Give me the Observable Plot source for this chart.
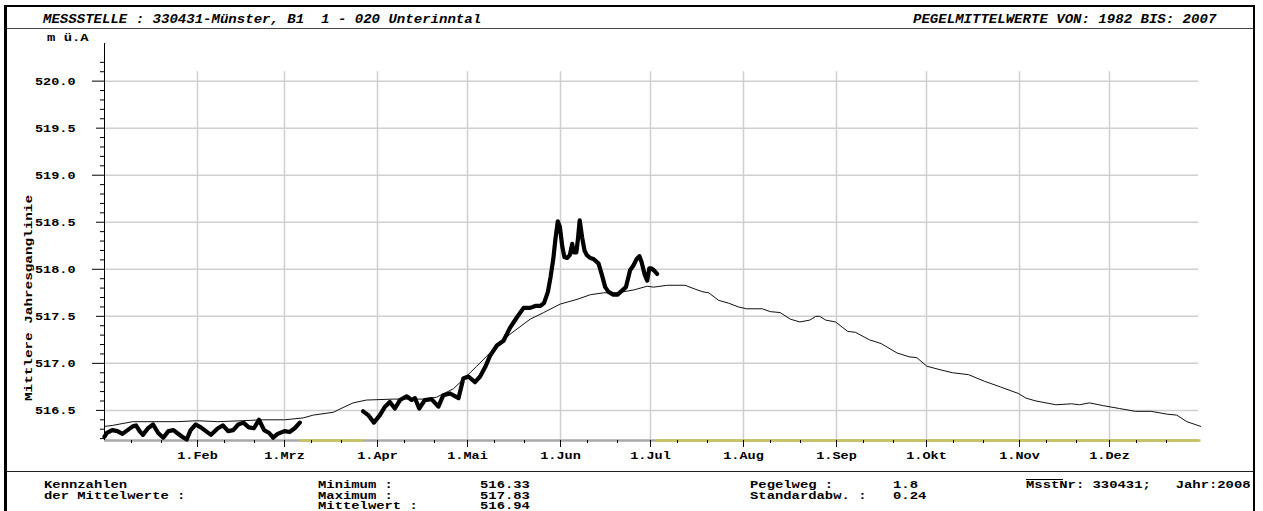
<!DOCTYPE html>
<html>
<head>
<meta charset="utf-8">
<script src="https://cdn.jsdelivr.net/npm/d3@7"></script>
<script src="https://cdn.jsdelivr.net/npm/@observablehq/plot@0.6"></script>
<style>
  html, body { margin: 0; padding: 0; background: #fff; }
  #wrap { position: relative; width: 1263px; height: 511px; overflow: hidden; background: #fff; }
  #wrap svg { position: absolute; left: 0; top: 0; }
  .t { position: absolute; white-space: pre; font-family: "Liberation Mono", "DejaVu Sans Mono", monospace; font-weight: bold; color: #000; transform-origin: 0 50%; }
  .hdr { font-size: 12px; line-height: 14px; font-style: italic; transform: scaleX(1.17); }
  .ftr { font-size: 11px; line-height: 10px; transform: scaleX(1.26); }
  .ln { position: absolute; background: #000; }
</style>
</head>
<body>
<div id="wrap"></div>
<script>
// ---- data (day-of-year, 0 = 1 Jan 2008) ----
const meanDay = [0, 2.6, 9.4, 16.2, 24.2, 31, 37.8, 45.8, 52.6, 60, 66.2, 69.6, 76.3, 79.5, 82.9, 87.3, 96.2, 106.8, 110.7, 116.3, 119.6, 124.1, 129.7, 135.2, 141.9, 146.4, 151.9, 157.5, 162, 166.4, 170.9, 176.4, 180.9, 183, 187.6, 193.5, 196.8, 199.5, 201.4, 204.7, 208, 211.3, 214, 219.3, 221.9, 225.2, 228.6, 231.8, 235.1, 237.1, 238.4, 240.4, 243.7, 247.7, 250.3, 255, 258.9, 264.2, 268.2, 270.8, 274.1, 278.8, 282.7, 288, 293.3, 298.6, 304.6, 307.2, 310.5, 317.1, 322.4, 325, 328.3, 333, 338.3, 343.6, 348.9, 354.2, 357.4, 360.8, 365.4];
const meanLevel = [516.33, 516.34, 516.38, 516.38, 516.38, 516.39, 516.38, 516.39, 516.40, 516.40, 516.42, 516.45, 516.48, 516.53, 516.58, 516.61, 516.62, 516.62, 516.64, 516.73, 516.83, 516.97, 517.15, 517.31, 517.47, 517.54, 517.63, 517.68, 517.73, 517.75, 517.75, 517.78, 517.82, 517.81, 517.83, 517.83, 517.79, 517.76, 517.75, 517.67, 517.64, 517.60, 517.58, 517.58, 517.55, 517.54, 517.47, 517.44, 517.46, 517.50, 517.50, 517.46, 517.44, 517.34, 517.33, 517.25, 517.21, 517.11, 517.07, 517.06, 516.97, 516.93, 516.90, 516.88, 516.81, 516.75, 516.68, 516.63, 516.60, 516.56, 516.57, 516.56, 516.58, 516.55, 516.52, 516.49, 516.49, 516.46, 516.45, 516.38, 516.33];

const obsDay1 = [0, 0.8, 2.6, 4.3, 6, 7.7, 9.4, 10.5, 11.7, 12.8, 14.5, 16.2, 17.9, 19.6, 21.3, 23, 24.2, 25.9, 27.4, 28.7, 30.4, 32.1, 33.8, 35.5, 37.8, 39.5, 41.2, 42.9, 44.6, 46.3, 48.1, 49.8, 51.5, 53.2, 54.9, 56.2, 57.7, 60, 61.7, 63.4, 65.1];
const obsLevel1 = [516.22, 516.26, 516.29, 516.28, 516.25, 516.29, 516.33, 516.34, 516.28, 516.24, 516.31, 516.35, 516.26, 516.21, 516.28, 516.29, 516.26, 516.22, 516.19, 516.29, 516.35, 516.32, 516.28, 516.24, 516.31, 516.34, 516.28, 516.29, 516.35, 516.37, 516.32, 516.31, 516.40, 516.29, 516.26, 516.21, 516.25, 516.28, 516.27, 516.31, 516.37];

const obsDay2 = [86.2, 87.9, 89.8, 91.8, 93.5, 95.1, 96.8, 98.5, 100.7, 102.4, 103.5, 104.9, 106.8, 109, 111.3, 112.9, 115.2, 118, 119.6, 121.3, 123.5, 125.2, 126.9, 128.5, 130.8, 133, 135.2, 137.5, 139.7, 141.9, 143.6, 145.3, 146.5, 147.8, 148.7, 149.6, 150.3, 151.1, 151.8, 152.6, 153.3, 154.2, 155.1, 155.9, 156.4, 157.3, 157.8, 158.4, 159.2, 160, 160.8, 161.9, 163, 164.7, 165.8, 166.9, 168, 169.6, 171, 172.4, 173.8, 175.2, 176.3, 177.4, 178.3, 179, 180.1, 180.9, 181.6, 182.3, 183.1, 184.2];
const obsLevel2 = [516.49, 516.45, 516.37, 516.45, 516.54, 516.59, 516.52, 516.61, 516.65, 516.61, 516.63, 516.52, 516.61, 516.62, 516.54, 516.66, 516.68, 516.63, 516.84, 516.86, 516.80, 516.86, 516.96, 517.08, 517.19, 517.24, 517.38, 517.49, 517.59, 517.59, 517.61, 517.61, 517.64, 517.76, 517.92, 518.11, 518.32, 518.51, 518.45, 518.24, 518.13, 518.12, 518.15, 518.27, 518.18, 518.18, 518.32, 518.52, 518.34, 518.20, 518.15, 518.12, 518.11, 518.06, 517.94, 517.81, 517.76, 517.73, 517.73, 517.77, 517.81, 517.99, 518.04, 518.11, 518.14, 518.08, 517.94, 517.88, 518.01, 518.01, 517.99, 517.95];

// days without measurement (marked on the x axis)
const missingFrom = [65, 184];
const missingTo = [86.5, 365.5];

const monthLabels = ["1.Feb", "1.Mrz", "1.Apr", "1.Mai", "1.Jun", "1.Jul", "1.Aug", "1.Sep", "1.Okt", "1.Nov", "1.Dez"];
const yLabelTicks = [516.5, 517.0, 517.5, 518.0, 518.5, 519.0, 519.5, 520.0];

const headerLeft = "MESSSTELLE : 330431-Münster, B1  1 - 020 Unterinntal";
const headerRight = "PEGELMITTELWERTE VON: 1982 BIS: 2007";
const yTitle = "Mittlere Jahresganglinie";
const unitLabel = "m ü.A";
const statNames1 = ["Minimum :", "Maximum :", "Mittelwert :"];
const statValues1 = ["516.33", "517.83", "516.94"];
const statNames2 = ["Pegelweg :", "Standardabw. :"];
const statValues2 = ["1.8", "0.24"];

// ---- build ----
const t0 = Date.UTC(2008, 0, 1);
const toDate = d => new Date(t0 + d * 864e5);
const mean = meanDay.map((d, i) => ({date: toDate(d), v: meanLevel[i]}));
const obs = [
  ...obsDay1.map((d, i) => ({date: toDate(d), v: obsLevel1[i], seg: 1})),
  ...obsDay2.map((d, i) => ({date: toDate(d), v: obsLevel2[i], seg: 2}))
];
const missing = missingFrom.map((d, i) => ({x1: toDate(d), x2: toDate(missingTo[i])}));

const monthTicks = monthLabels.map((_, i) => new Date(Date.UTC(2008, i + 1, 1)));
const minorXTicks = [];
for (let m = 0; m < 12; m++) { minorXTicks.push(new Date(Date.UTC(2008, m, 10)), new Date(Date.UTC(2008, m, 20))); }

const yMin = 516.18, yMax = 520.4;
const allY = d3.range(2, 43).map(k => +(516 + k * 0.1).toFixed(1));
const intY = allY.filter(v => Math.abs(v - Math.round(v)) < 1e-6);
const halfY = allY.filter(v => Math.abs(v * 2 - Math.round(v * 2)) < 1e-6 && !intY.includes(v));
const tenthY = allY.filter(v => !intY.includes(v) && !halfY.includes(v));

const x0 = new Date(t0), x1 = new Date(Date.UTC(2009, 0, 1));
const gridEnd = toDate(364.7);

const chart = Plot.plot({
  width: 1263, height: 511,
  marginLeft: 104, marginRight: 61, marginTop: 43, marginBottom: 71,
  x: {type: "utc", domain: [x0, x1]},
  y: {domain: [yMin, yMax]},
  style: {background: "transparent", fontFamily: "Liberation Mono, monospace", fontWeight: "bold", fontSize: "10px", color: "#000"},
  marks: [
    Plot.ruleY(yLabelTicks, {x1: x0, x2: gridEnd, stroke: "#cfcfcf", strokeWidth: 1.5}),
    Plot.ruleX(monthTicks, {y1: yMin, y2: 520.1, stroke: "#cfcfcf", strokeWidth: 1.5}),
    Plot.ruleY([yMin], {x1: x0, x2: gridEnd, stroke: "#a8a8a8", strokeWidth: 2.5}),
    Plot.ruleY(missing, {y: yMin, x1: "x1", x2: "x2", stroke: "#c8c35a", strokeWidth: 2.5}),
    Plot.ruleX([x0], {y1: yMin, y2: yMax, stroke: "#000", strokeWidth: 1}),
    Plot.axisY(tenthY, {tickSize: 4, tickFormat: () => "", label: null, stroke: "#000"}),
    Plot.axisY(halfY, {tickSize: 8, tickFormat: () => "", label: null, stroke: "#000"}),
    Plot.axisY(intY, {tickSize: 12, tickFormat: () => "", label: null, stroke: "#000"}),
    Plot.axisY(yLabelTicks, {tickSize: 0, tickPadding: 29, tickFormat: d => d.toFixed(1), label: null, fontSize: 11}),
    Plot.axisX(minorXTicks, {tickSize: 3, tickFormat: () => "", label: null, stroke: "#000"}),
    Plot.axisX(monthTicks, {tickSize: 7, tickPadding: 4, tickFormat: d => monthLabels[d.getUTCMonth() - 1], label: null, fontSize: 11, stroke: "#000"}),
    Plot.line(mean, {x: "date", y: "v", stroke: "#111", strokeWidth: 1, curve: "linear"}),
    Plot.line(obs, {x: "date", y: "v", z: "seg", stroke: "#000", strokeWidth: 4.2, strokeLinejoin: "round", strokeLinecap: "round"})
  ]
});

const wrap = document.getElementById("wrap");
wrap.appendChild(chart);

// widen the bold mono tick labels like the original print
chart.querySelectorAll('g[aria-label$="tick label"] text').forEach(t => {
  const s = t.textContent;
  if (s && s.length) {
    t.setAttribute("textLength", s.length * 8.1);
    t.setAttribute("lengthAdjust", "spacingAndGlyphs");
  }
});

function line(l, t, w, h, c) {
  const d = document.createElement("div");
  d.className = "ln";
  Object.assign(d.style, {left: l + "px", top: t + "px", width: w + "px", height: h + "px", background: c || "#000"});
  wrap.appendChild(d);
}
function text(s, cls, l, cy, lh) {
  const d = document.createElement("div");
  d.className = "t " + cls;
  d.textContent = s;
  d.style.left = l + "px";
  d.style.top = (cy - lh / 2) + "px";
  wrap.appendChild(d);
  return d;
}

// frame
line(4, 5, 1251, 2);
line(4, 5, 3, 506);
line(1253, 5, 2, 506);
line(7, 28, 1246, 1, "#444");
line(7, 471, 1246, 1, "#222");
line(1026, 479, 37, 1, "#000");

// header
text(headerLeft, "hdr", 43, 20, 14);
text(headerRight, "hdr", 913, 20, 14);

// unit & y title
text(unitLabel, "ftr", 47, 38, 10);
const yt = document.createElement("div");
yt.className = "t";
yt.textContent = yTitle;
Object.assign(yt.style, {fontSize: "11px", lineHeight: "12px", left: "29px", top: "298px", transformOrigin: "50% 50%", transform: "translate(-50%,-50%) rotate(-90deg) scaleX(1.3)"});
wrap.appendChild(yt);

// footer
const rows = [485, 495.5, 505.5];
text("Kennzahlen", "ftr", 44, rows[0], 10);
text("der Mittelwerte :", "ftr", 44, rows[1], 10);
statNames1.forEach((s, i) => { text(s, "ftr", 318, rows[i], 10); text(statValues1[i], "ftr", 480, rows[i], 10); });
statNames2.forEach((s, i) => { text(s, "ftr", 750, rows[i], 10); text(statValues2[i], "ftr", 893, rows[i], 10); });
text("MsstNr: 330431;   Jahr:2008", "ftr", 1026, rows[0], 10);
</script>
</body>
</html>
